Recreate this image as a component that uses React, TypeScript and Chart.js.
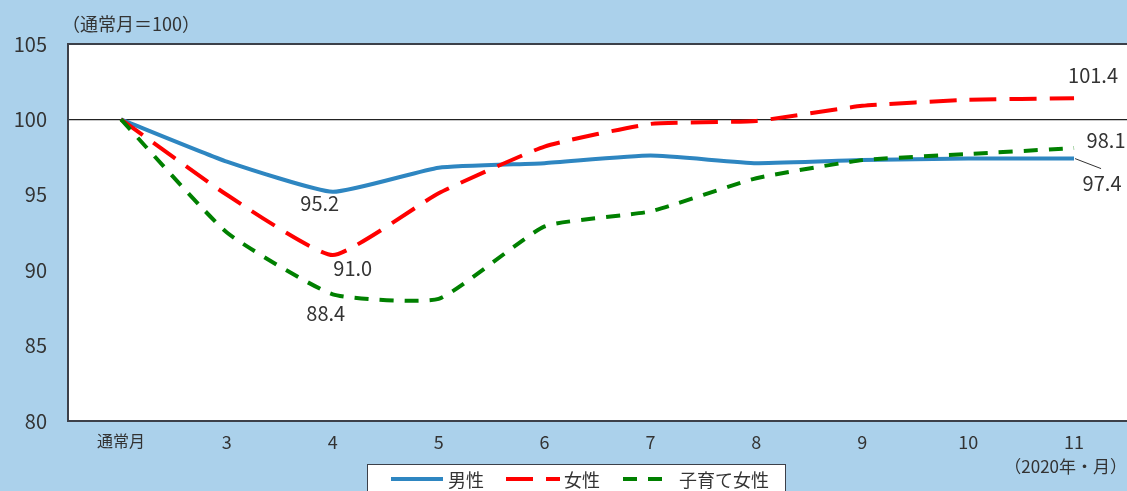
import React, { useEffect, useRef } from "react";
import { Chart, registerables } from "chart.js";

Chart.register(...registerables);

const categories = ["通常月", "3", "4", "5", "6", "7", "8", "9", "10", "11"];
const male = [100, 97.2, 95.2, 96.8, 97.1, 97.6, 97.1, 97.3, 97.4, 97.4];
const female = [100, 95.0, 91.0, 95.1, 98.2, 99.7, 99.9, 100.9, 101.3, 101.4];
const mothers = [100, 92.5, 88.4, 88.1, 92.9, 93.9, 96.1, 97.3, 97.7, 98.1];
const seriesNames = ["男性", "女性", "子育て女性"];
const yTicks = [80, 85, 90, 95, 100, 105];

const BG = "#abd1eb";
const FONT = "'Noto Sans CJK JP', 'Noto Sans', sans-serif";
const TXT = "#333333";

const colors = ["#2e86c1", "#ff0000", "#008000"];
const dashes: number[][] = [[], [27, 13], [14, 11]];

export default function App() {
  const ref = useRef<HTMLCanvasElement | null>(null);

  useEffect(() => {
    document.body.style.margin = "0";
    const canvas = ref.current;
    if (!canvas) return;

    const bgPlugin = {
      id: "bgPlugin",
      beforeDraw(chart: any) {
        const { ctx, chartArea } = chart;
        ctx.save();
        ctx.fillStyle = BG;
        ctx.fillRect(0, 0, chart.width, chart.height);
        ctx.fillStyle = "#ffffff";
        ctx.fillRect(chartArea.left, chartArea.top, chartArea.right - chartArea.left, chartArea.bottom - chartArea.top);
        ctx.restore();
      },
      afterDraw(chart: any) {
        const { ctx, chartArea, scales } = chart;
        const x = scales.x;
        const y = scales.y;
        ctx.save();
        ctx.strokeStyle = "#3c4049";
        ctx.lineWidth = 2;
        ctx.beginPath();
        ctx.moveTo(chartArea.right + 2, chartArea.top);
        ctx.lineTo(chartArea.left, chartArea.top);
        ctx.lineTo(chartArea.left, chartArea.bottom);
        ctx.lineTo(chartArea.right + 2, chartArea.bottom);
        ctx.stroke();

        ctx.fillStyle = TXT;
        ctx.font = `18px ${FONT}`;
        ctx.textBaseline = "middle";
        ctx.textAlign = "left";
        ctx.fillText("（通常月＝100）", 62, 24);
        ctx.font = `17px ${FONT}`;
        ctx.textAlign = "right";
        ctx.fillText("（2020年・月）", 1127, 467);

        ctx.font = `20px ${FONT}`;
        ctx.textAlign = "center";
        const lab = (txt: string, i: number, v: number, dx: number, dy: number) => {
          ctx.fillText(txt, x.getPixelForValue(i) + dx, y.getPixelForValue(v) + dy);
        };
        lab("95.2", 2, male[2], -13, 12);
        lab("91.0", 2, female[2], 20, 13);
        lab("88.4", 2, mothers[2], -7, 19);
        lab("101.4", 9, female[9], 19, -23);
        lab("98.1", 9, mothers[9], 32, -8);
        lab("97.4", 9, male[9], 28, 25);
        ctx.strokeStyle = "#333";
        ctx.lineWidth = 1;
        ctx.beginPath();
        ctx.moveTo(x.getPixelForValue(9) + 1, y.getPixelForValue(male[9]));
        ctx.lineTo(x.getPixelForValue(9) + 27, y.getPixelForValue(male[9]) + 10);
        ctx.stroke();

        const lx = 367, ly = 464, lw = 418, lh = 40;
        ctx.fillStyle = "#ffffff";
        ctx.fillRect(lx, ly, lw, lh);
        ctx.strokeStyle = "#3c4049";
        ctx.lineWidth = 1;
        ctx.strokeRect(lx + 0.5, ly + 0.5, lw, lh);
        const items = [
          { s: 391, e: 443, t: 448 },
          { s: 506, e: 560, t: 564 },
          { s: 623, e: 665, t: 679 },
        ];
        ctx.font = `18px ${FONT}`;
        ctx.textAlign = "left";
        items.forEach((it, k) => {
          ctx.strokeStyle = colors[k];
          ctx.lineWidth = 4;
          ctx.setLineDash(dashes[k]);
          ctx.beginPath();
          ctx.moveTo(it.s, 479);
          ctx.lineTo(it.e, 479);
          ctx.stroke();
          ctx.setLineDash([]);
          ctx.fillStyle = TXT;
          ctx.fillText(seriesNames[k], it.t, 480);
        });
        ctx.restore();
      },
    };

    const mk = (label: string, data: number[], k: number) => ({
      label,
      data,
      borderColor: colors[k],
      backgroundColor: colors[k],
      borderWidth: 4,
      borderDash: dashes[k],
      pointRadius: 0,
      tension: 0.15,
      fill: false,
    });

    const chart = new Chart(canvas, {
      type: "line",
      data: {
        labels: categories,
        datasets: [mk(seriesNames[2], mothers, 2), mk(seriesNames[1], female, 1), mk(seriesNames[0], male, 0)],
      },
      plugins: [bgPlugin],
      options: {
        animation: false,
        responsive: false,
        maintainAspectRatio: false,
        layout: { padding: { top: 44, right: 0, left: 0, bottom: 0 } },
        plugins: { legend: { display: false }, tooltip: { enabled: false } },
        scales: {
          x: {
            type: "category",
            offset: true,
            grid: { display: false, drawTicks: false },
            border: { display: false },
            afterFit: (s: any) => { s.height = 70; },
            ticks: {
              color: TXT,
              padding: 10,
              maxRotation: 0,
              autoSkip: false,
              font: (c: any) => ({ family: FONT, size: c.index === 0 ? 16 : 18 }),
            },
          },
          y: {
            min: 80,
            max: 105,
            afterFit: (s: any) => { s.width = 68; },
            afterBuildTicks: (s: any) => { s.ticks = yTicks.map((v) => ({ value: v })); },
            grid: {
              drawTicks: false,
              color: (c: any) => (c.tick && c.tick.value === 100 ? "#222222" : "rgba(0,0,0,0)"),
              lineWidth: 1.2,
            },
            border: { display: false },
            ticks: {
              color: TXT,
              padding: 21,
              font: { family: FONT, size: 20 },
            },
          },
        },
      },
    } as any);

    return () => chart.destroy();
  }, []);

  return (
    <div style={{ position: "absolute", left: 0, top: 0, width: 1127, height: 491, background: BG }}>
      <canvas ref={ref} width={1127} height={491} style={{ width: 1127, height: 491, display: "block" }} />
    </div>
  );
}
